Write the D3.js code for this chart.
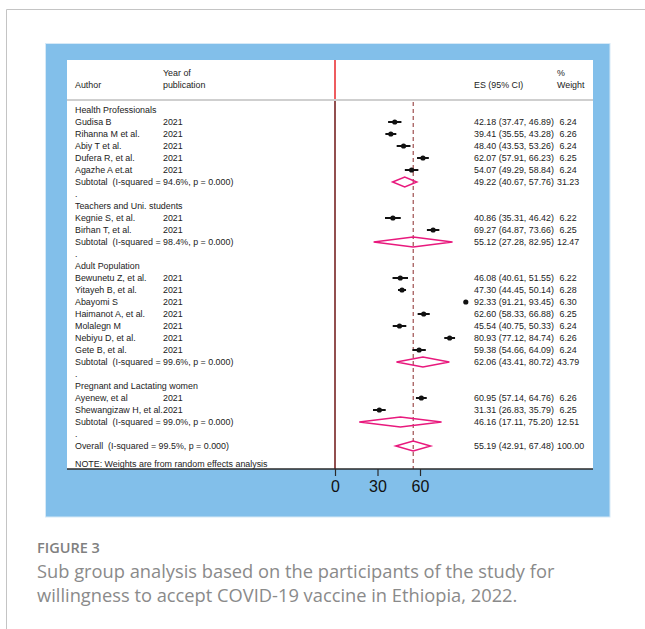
<!DOCTYPE html>
<html>
<head>
<meta charset="utf-8">
<script src="https://cdn.jsdelivr.net/npm/d3@7"></script>
<style>
  html, body { margin: 0; padding: 0; background: #fff; }
  svg { display: block; }
  text { white-space: pre; }
</style>
</head>
<body>
<script>
// Subgroup forest plot: willingness to accept COVID-19 vaccine
const groupNames = ["Health Professionals", "Teachers and Uni. students", "Adult Population", "Pregnant and Lactating women"];

const studyAuthors = [
  ["Gudisa B", "Rihanna M et al.", "Abiy T et al.", "Dufera R, et al.", "Agazhe A et.at"],
  ["Kegnie S, et al.", "Birhan T, et al."],
  ["Bewunetu Z, et al.", "Yitayeh B, et al.", "Abayomi S", "Haimanot A, et al.", "Molalegn M", "Nebiyu D, et al.", "Gete B, et al."],
  ["Ayenew, et al", "Shewangizaw H, et al."]
];
const studyYears = [
  [2021, 2021, 2021, 2021, 2021],
  [2021, 2021],
  [2021, 2021, 2021, 2021, 2021, 2021, 2021],
  [2021, 2021]
];
const studyES = [
  [42.18, 39.41, 48.40, 62.07, 54.07],
  [40.86, 69.27],
  [46.08, 47.30, 92.33, 62.60, 45.54, 80.93, 59.38],
  [60.95, 31.31]
];
const studyLower = [
  [37.47, 35.55, 43.53, 57.91, 49.29],
  [35.31, 64.87],
  [40.61, 44.45, 91.21, 58.33, 40.75, 77.12, 54.66],
  [57.14, 26.83]
];
const studyUpper = [
  [46.89, 43.28, 53.26, 66.23, 58.84],
  [46.42, 73.66],
  [51.55, 50.14, 93.45, 66.88, 50.33, 84.74, 64.09],
  [64.76, 35.79]
];
const studyWeights = [
  [6.24, 6.26, 6.24, 6.25, 6.24],
  [6.22, 6.25],
  [6.22, 6.28, 6.30, 6.25, 6.24, 6.26, 6.24],
  [6.26, 6.25]
];

const subtotalI2 = ["94.6%", "98.4%", "99.6%", "99.0%"];
const subtotalES = [49.22, 55.12, 62.06, 46.16];
const subtotalLower = [40.67, 27.28, 43.41, 17.11];
const subtotalUpper = [57.76, 82.95, 80.72, 75.20];
const subtotalWeights = [31.23, 12.47, 43.79, 12.51];

const overallI2 = "99.5%";
const overallES = 55.19;
const overallLower = 42.91;
const overallUpper = 67.48;
const overallWeight = 100.00;

const axisTicks = [0, 30, 60];

// ---- build row list ----
const fmt = d3.format(".2f");
const rows = [];
groupNames.forEach((g, gi) => {
  rows.push({ type: "group", label: g });
  studyAuthors[gi].forEach((a, si) => {
    rows.push({
      type: "study", label: a, year: studyYears[gi][si],
      es: studyES[gi][si], lo: studyLower[gi][si], hi: studyUpper[gi][si], w: studyWeights[gi][si]
    });
  });
  rows.push({
    type: "subtotal", label: `Subtotal  (I-squared = ${subtotalI2[gi]}, p = 0.000)`,
    es: subtotalES[gi], lo: subtotalLower[gi], hi: subtotalUpper[gi], w: subtotalWeights[gi]
  });
  rows.push({ type: "spacer", label: "." });
});
rows.push({
  type: "overall", label: `Overall  (I-squared = ${overallI2}, p = 0.000)`,
  es: overallES, lo: overallLower, hi: overallUpper, w: overallWeight
});

// ---- layout ----
const W = 645, H = 629;
const svg = d3.select("body").append("svg").attr("width", W).attr("height", H);

// card outline
svg.append("line").attr("x1", 6.5).attr("x2", 6.5).attr("y1", 9.5).attr("y2", H).attr("stroke", "#c4c4c4").attr("stroke-width", 1);
svg.append("line").attr("x1", 6.5).attr("x2", W).attr("y1", 9.5).attr("y2", 9.5).attr("stroke", "#c4c4c4").attr("stroke-width", 1);

// figure backdrop
svg.append("rect").attr("x", 45.5).attr("y", 43.5).attr("width", 564.5).attr("height", 473.5)
  .attr("fill", "#82bfea").attr("stroke", "#d6e9f7").attr("stroke-width", 1);

const panel = { x: 67, y: 60, w: 526, h: 409 };
svg.append("rect").attr("x", panel.x).attr("y", panel.y).attr("width", panel.w).attr("height", panel.h).attr("fill", "#fff");

// scales
const x = d3.scaleLinear().domain([0, 100]).range([335, 335 + 141.67]);
const y = d3.scaleLinear().domain([0, 1]).range([110, 122]); // row index -> centre y

const font = "'Liberation Sans', Arial, sans-serif";
const txtCol = "#222";
const fs = 8.9;
const colAuthor = 75, colYear = 163, colES = 474, colW = 557;

// header
const hdr = svg.append("g").attr("font-family", font).attr("font-size", fs).attr("fill", txtCol);
hdr.append("text").attr("x", colAuthor).attr("y", 85).attr("dy", "0.35em").text("Author");
hdr.append("text").attr("x", colYear).attr("y", 73).attr("dy", "0.35em").text("Year of");
hdr.append("text").attr("x", colYear).attr("y", 85).attr("dy", "0.35em").text("publication");
hdr.append("text").attr("x", colES).attr("y", 85).attr("dy", "0.35em").text("ES (95% CI)");
hdr.append("text").attr("x", colW).attr("y", 73).attr("dy", "0.35em").text("%");
hdr.append("text").attr("x", colW).attr("y", 85).attr("dy", "0.35em").text("Weight");

// header divider
svg.append("line").attr("x1", panel.x).attr("x2", panel.x + panel.w).attr("y1", 100).attr("y2", 100)
  .attr("stroke", "#cfcfcf").attr("stroke-width", 2);

// null line
svg.append("line").attr("x1", x(0)).attr("x2", x(0)).attr("y1", panel.y).attr("y2", 99)
  .attr("stroke", "#e8262a").attr("stroke-width", 1.5);
svg.append("line").attr("x1", x(0)).attr("x2", x(0)).attr("y1", 101).attr("y2", panel.y + panel.h)
  .attr("stroke", "#6e1414").attr("stroke-width", 1.5);

// overall effect reference line
svg.append("line").attr("x1", x(overallES)).attr("x2", x(overallES)).attr("y1", 102).attr("y2", panel.y + panel.h)
  .attr("stroke", "#8a2a2a").attr("stroke-width", 1).attr("stroke-dasharray", "4,3");

// row labels
const rowG = svg.append("g").attr("font-family", font).attr("font-size", fs).attr("fill", txtCol);
rows.forEach((r, i) => {
  const cy = y(i);
  rowG.append("text").attr("x", colAuthor).attr("y", cy).attr("dy", "0.35em").text(r.label);
  if (r.type === "study") {
    rowG.append("text").attr("x", colYear).attr("y", cy).attr("dy", "0.35em").text(r.year);
  }
  if (r.es !== undefined) {
    rowG.append("text").attr("x", colES).attr("y", cy).attr("dy", "0.35em")
      .text(`${fmt(r.es)} (${fmt(r.lo)}, ${fmt(r.hi)})`);
    rowG.append("text").attr("x", colW).attr("y", cy).attr("dy", "0.35em")
      .text(fmt(r.w).padStart(5, " "));
  }
});

// study estimates with confidence intervals
const marks = svg.append("g");
rows.forEach((r, i) => {
  const cy = y(i);
  if (r.type === "study") {
    marks.append("line").attr("x1", x(r.lo)).attr("x2", x(r.hi)).attr("y1", cy).attr("y2", cy)
      .attr("stroke", "#111").attr("stroke-width", 2);
    marks.append("circle").attr("cx", x(r.es)).attr("cy", cy).attr("r", 2.6).attr("fill", "#111");
  } else if (r.type === "subtotal" || r.type === "overall") {
    const h = 5;
    const pts = [[x(r.lo), cy], [x(r.es), cy - h], [x(r.hi), cy], [x(r.es), cy + h]];
    marks.append("path").attr("d", "M" + pts.join("L") + "Z")
      .attr("fill", "none").attr("stroke", "#e8197d").attr("stroke-width", 1.5);
  }
});

// footnote
svg.append("text").attr("x", colAuthor).attr("y", 464).attr("dy", "0.35em")
  .attr("font-family", font).attr("font-size", fs).attr("fill", txtCol)
  .text("NOTE: Weights are from random effects analysis");

// x axis along panel bottom
svg.append("line").attr("x1", panel.x).attr("x2", panel.x + panel.w)
  .attr("y1", panel.y + panel.h).attr("y2", panel.y + panel.h)
  .attr("stroke", "#2a2a2a").attr("stroke-width", 1.5);
const axis = svg.append("g").attr("transform", `translate(0,${panel.y + panel.h})`)
  .call(d3.axisBottom(x).tickValues(axisTicks).tickSize(7).tickPadding(5).tickFormat(d3.format("d")));
axis.select(".domain").remove();
axis.selectAll(".tick line").attr("stroke", "#2a2a2a").attr("stroke-width", 1.2);
axis.selectAll(".tick text").attr("font-family", font).attr("font-size", 16).attr("fill", "#111");

// caption
const capFont = "'Open Sans', 'Noto Sans', sans-serif";
svg.append("text").attr("x", 37).attr("y", 553).attr("font-family", capFont)
  .attr("font-size", 14.5).attr("font-weight", 600).attr("fill", "#808080").text("FIGURE 3");
svg.append("text").attr("x", 37).attr("y", 578).attr("font-family", capFont)
  .attr("font-size", 18.3).attr("fill", "#8a8a8a").text("Sub group analysis based on the participants of the study for");
svg.append("text").attr("x", 37).attr("y", 602).attr("font-family", capFont)
  .attr("font-size", 18.3).attr("fill", "#8a8a8a").text("willingness to accept COVID-19 vaccine in Ethiopia, 2022.");
</script>
</body>
</html>
